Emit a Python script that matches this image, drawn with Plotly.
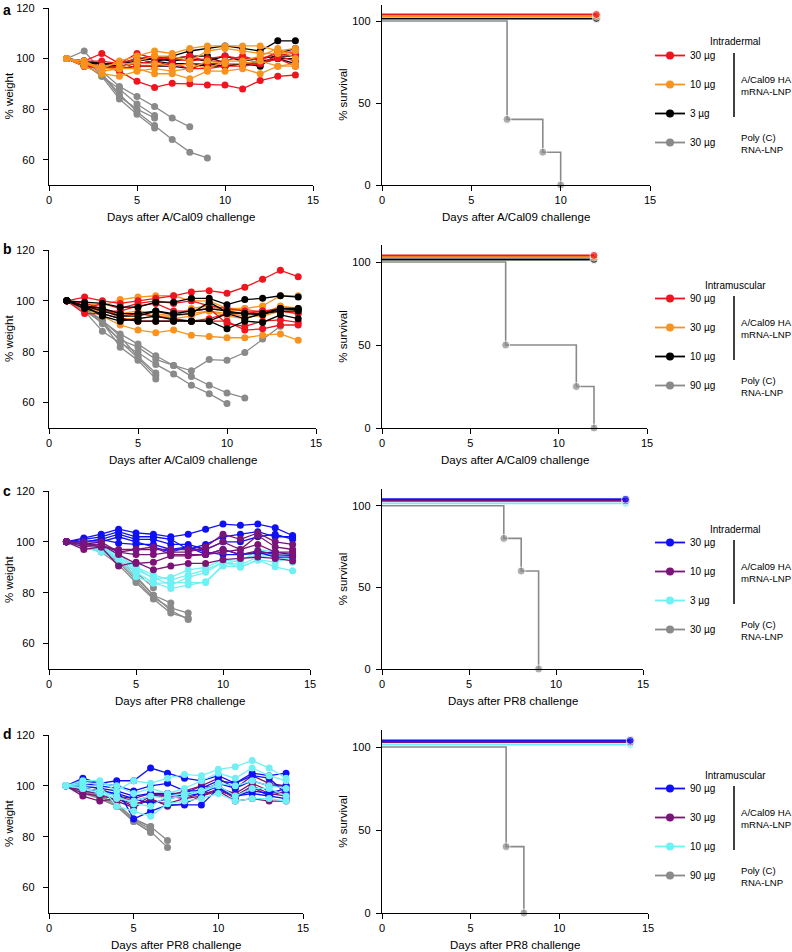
import plotly.graph_objects as go

# ---------------- data ----------------
DAYS = list(range(1, 15))

# Panel a (A/Cal09, intradermal)
A_30UG = [
    [100, 97, 97, 95, 91, 88.6, 90.2, 90, 89.5, 89.5, 88, 91.3, 93, 93.5],
    [100, 99, 102, 98, 102, 100, 100, 99, 100, 101, 100, 100, 102, 101],
    [100, 98, 97, 96, 97, 97, 98, 96, 96, 97, 97, 98, 100, 97],
    [100, 99, 99, 98, 100, 101, 100, 101, 99, 99, 101, 99, 103, 102],
    [100, 97, 96, 97, 98, 99, 97, 98, 98, 98, 98, 98, 101, 99],
]
A_10UG = [
    [100, 99, 96, 99, 101, 103, 102, 104, 105, 105, 105, 105, 103, 104],
    [100, 98, 96, 96, 99, 101, 101, 99, 103, 104, 103, 102, 102, 103],
    [100, 97, 94, 93, 95, 96, 95, 96, 99, 98, 98, 99, 97, 98],
    [100, 99, 95, 96, 96, 94, 94, 92, 95, 95, 96, 94, 97, 97],
    [100, 98, 97, 98, 98, 98, 97, 98, 96, 99, 99, 101, 104, 100],
]
A_3UG = [
    [100, 99, 98, 98, 100, 100, 101, 103, 104, 105, 104, 103, 107, 107],
    [100, 98, 98, 97, 98, 99, 100, 101, 101, 98, 98, 97, 102, 104],
    [100, 98, 97, 97, 98, 99, 98, 98, 97, 97, 98, 99, 100, 100],
    [100, 97, 97, 96, 97, 97, 97, 96, 98, 97, 98, 98, 100, 98],
    [100, 99, 98, 98, 99, 100, 99, 100, 99, 101, 99, 100, 101, 101],
]
A_POLY = [
    [100, 103, 95, 89, 85, 81, 76.5, 73],
    [100, 99, 94, 86, 79, 73.5, 68, 63, 60.7],
    [100, 98, 93, 88, 82, 77.5],
    [100, 97, 94, 85, 80, 76.5],
    [100, 98, 93, 84, 78, 72.5],
]

# Panel b (A/Cal09, intramuscular)
B_90UG = [
    [100, 101.5, 100, 99, 100, 101, 102, 103.5, 104, 103, 105.4, 108.5, 112, 109.5],
    [100, 95, 95, 93, 92, 92, 92, 92, 92, 92, 88.5, 89, 90.5, 90.5],
    [100, 98, 96, 96, 98, 99, 96, 96, 97, 91, 90, 92, 92.5, 91.5],
    [100, 97, 99, 97, 99, 100, 99, 100, 98, 97, 96, 96, 97, 97],
    [100, 99, 97, 94, 95, 94, 93, 92, 93, 95, 95, 96, 96, 95],
]
B_30UG = [
    [100, 97, 94, 90.5, 88.5, 87.5, 88.5, 86.5, 86, 85.5, 85.5, 86.5, 87, 84.5],
    [100, 99, 98, 100.5, 101.5, 102, 102, 100, 100, 97, 97, 98, 102, 102],
    [100, 98, 97, 95, 95, 94, 93, 94, 96, 95, 94, 94, 96, 95],
    [100, 97, 96, 95, 96, 95, 94, 97, 98, 96, 97, 95, 98, 97],
    [100, 98, 97, 93, 93, 94, 94, 95, 96, 94, 93, 95, 97, 96],
]
B_10UG = [
    [100, 99.5, 99, 97.5, 97.5, 99.5, 99.5, 101, 101, 98.5, 100.5, 101, 102, 101.5],
    [100, 97, 95, 93, 92, 92, 92, 92, 92, 89, 92, 91.5, 94.5, 93],
    [100, 98, 96, 94, 94, 96, 94.5, 95, 99.5, 95.5, 95, 94.5, 97, 96.5],
    [100, 98, 94, 92, 93, 94, 92.5, 92, 92, 95, 93, 95, 97, 97],
    [100, 98, 97, 95, 95, 96, 95, 96, 97, 96, 95, 95, 96, 96],
]
B_POLY = [
    [100, 97, 92, 87, 83, 78.4, 74.6, 72.5, 76.9, 76.6, 79.7, 85, 90],
    [100, 97, 91, 84.7, 81.8, 77, 74.6, 70.3, 66.8, 63.8, 61.8],
    [100, 96, 88, 83.4, 79.7, 75, 71.2, 66.8, 63.5, 59.6],
    [100, 97, 92.5, 86, 78, 71.6],
    [100, 96, 91.5, 81.8, 76.6, 69.3],
    [100, 97, 92, 84, 77.5, 70.6],
]

# Panel c (PR8, intradermal)
C_30UG = [
    [100, 101.5, 103, 105, 103.5, 103, 102, 103, 105, 107, 106.5, 107, 105.5, 102.5],
    [100, 101, 102, 104, 102, 102, 101, 97, 99, 102, 103, 104, 102, 102],
    [100, 100, 101, 103, 101, 101, 99, 99, 97, 100, 100, 102, 103, 101],
    [100, 100, 101, 99.5, 99, 99, 97, 98, 95, 97, 95, 96, 94, 94],
    [100, 99, 100, 102, 100, 98, 96, 98, 96, 95, 95, 95.5, 96, 95],
]
C_10UG = [
    [100, 97, 98, 90.5, 92, 89, 90.5, 91.5, 91.5, 93, 93.5, 94, 93.5, 92.5],
    [100, 98, 99, 95, 91.5, 92, 94.5, 94.5, 95, 97, 95, 96.5, 95, 94.5],
    [100, 99, 99, 96, 95, 95, 96, 96, 98, 103, 101, 103.5, 100, 99],
    [100, 100, 100, 96, 97, 97, 97, 97, 97, 100, 97, 102.5, 98, 97],
    [100, 99, 98, 97, 97, 98, 95, 95, 95, 96, 97, 99, 96, 96],
]
C_3UG = [
    [100, 98, 96, 93, 88, 84, 81.7, 83, 84.3, 90.5, 90.2, 92.8, 90.2, 88.6],
    [100, 98, 97, 94, 89, 86, 83, 86, 88, 92, 91, 94, 95, 92],
    [100, 99, 98, 95, 90, 85.5, 86, 89, 90, 93, 92, 97, 96, 95],
    [100, 98, 97, 93, 86.3, 83.7, 84, 84, 84, 91, 93, 95, 95, 95],
    [100, 99, 98, 94, 90, 87, 85, 87, 89, 92, 90, 93, 92, 94],
]
C_POLY = [
    [100, 99, 97, 93, 88, 82],
    [100, 99, 97, 93, 86.5, 79, 76],
    [100, 98, 97, 92, 85, 78, 74, 72],
    [100, 98, 96, 91, 84, 77.5, 72, 70],
    [100, 99, 97, 93, 86, 79, 73, 69.5],
]

# Panel d (PR8, intramuscular)
D_90UG = [
    [100, 103, 101, 102, 102, 107, 105, 103, 102, 104, 101, 105, 104, 105],
    [100, 101, 100, 99, 87, 90, 92.5, 92.5, 92.5, 99, 96, 97, 96, 95],
    [100, 102, 101, 100, 98, 100, 101, 98, 98, 101, 99, 102, 100, 100],
    [100, 99, 98, 97, 95, 93, 95, 96, 97, 100, 96, 98, 97, 99],
    [100, 100, 99, 98, 96, 97, 97, 96, 99, 102, 101, 104, 103, 97],
]
D_30UG = [
    [100, 96, 94, 95, 92, 96, 96, 95, 96, 99, 95, 99.5, 96, 98],
    [100, 98, 97, 94, 91.5, 95, 92, 93, 96, 98, 94, 95, 94, 94],
    [100, 99, 98, 96, 94, 96, 97, 97, 100, 103, 99, 104, 101, 100],
    [100, 100, 99, 96, 95, 97, 96, 98, 100, 99, 97, 101, 98, 97],
    [100, 97, 96, 95, 93, 94, 93, 95, 97, 98, 96, 100, 97, 96],
]
D_10UG = [
    [100, 102, 102, 98, 102, 101, 103, 104.5, 104, 106.5, 107.5, 110, 107, 103],
    [100, 100, 100, 92, 90, 88, 93, 94, 95, 97, 94, 95, 95, 94],
    [100, 99, 98, 96, 93, 92, 96, 97, 98, 101, 100, 102, 100, 99],
    [100, 101, 101, 100, 97, 99, 97, 99, 102, 105, 103, 107, 104, 102],
    [100, 99, 97, 95, 94, 96, 95, 96, 98, 100, 96, 99, 99, 96],
]
D_POLY = [
    [100, 98, 96, 93, 87, 84],
    [100, 98, 96, 92, 86.5, 83],
    [100, 97, 95, 92, 86, 81.7],
    [100, 98, 96, 93, 87, 84, 78.5],
    [100, 98, 95, 92, 86, 82, 75.8],
]

# Survival (Kaplan-Meier steps)
SURV_A_DAYS = [0, 7, 9, 10]
SURV_A_POLY = [100, 40, 20, 0]
SURV_A_END = 12
SURV_B_DAYS = [0, 7, 11, 12]
SURV_B_POLY = [100, 50, 25, 0]
SURV_B_END = 12
SURV_C_DAYS = [0, 7, 8, 9]
SURV_C_POLY = [100, 80, 60, 0]
SURV_C_END = 14
SURV_D_DAYS = [0, 7, 8]
SURV_D_POLY = [100, 40, 0]
SURV_D_END = 14
SURV_VACCINATED = 100

# labels
X_TITLES = ["Days after A/Cal09 challenge", "Days after A/Cal09 challenge",
            "Days after PR8 challenge", "Days after PR8 challenge"]
ROUTES = ["Intradermal", "Intramuscular", "Intradermal", "Intramuscular"]
DOSES = [["30 µg", "10 µg", "3 µg", "30 µg"],
         ["90 µg", "30 µg", "10 µg", "90 µg"],
         ["30 µg", "10 µg", "3 µg", "30 µg"],
         ["90 µg", "30 µg", "10 µg", "90 µg"]]
PANEL_LETTERS = ["a", "b", "c", "d"]

# ---------------- style ----------------
RED = "#f0141e"
ORANGE = "#f7931e"
BLACK = "#000000"
GRAY = "#8a8a8a"
BLUE = "#1010f5"
PURPLE = "#7a1478"
CYAN = "#70f0f4"
FONT = "Liberation Sans, Arial, Helvetica, sans-serif"

W, H = 792, 952
def PX(x): return x / W
def PY(y): return 1 - y / H

W_X = [(49, 313), (49, 316), (49, 310), (49, 303)]
W_Y = [(8, 185), (250, 428), (491, 669), (735, 913)]
S_X = [(382, 650), (382, 647), (382, 643), (382, 648)]
S_Y = [(4.6, 185), (245.4, 428), (489.4, 669), (730.4, 913)]
LEG_ITEMS_Y = [55, 298, 542, 788]
LETTER_Y = [0, 239, 481, 724]
SURV_OFFSETS = [104, 103, 101.5]   # visual stacking of the 100% lines

panels = [
    dict(groups=[(A_30UG, RED), (A_10UG, ORANGE), (A_3UG, BLACK)], poly=A_POLY,
         order=[2, 0, 1], sd=SURV_A_DAYS, sp=SURV_A_POLY, end=SURV_A_END),
    dict(groups=[(B_90UG, RED), (B_30UG, ORANGE), (B_10UG, BLACK)], poly=B_POLY,
         order=[1, 0, 2], sd=SURV_B_DAYS, sp=SURV_B_POLY, end=SURV_B_END),
    dict(groups=[(C_30UG, BLUE), (C_10UG, PURPLE), (C_3UG, CYAN)], poly=C_POLY,
         order=[2, 0, 1], sd=SURV_C_DAYS, sp=SURV_C_POLY, end=SURV_C_END),
    dict(groups=[(D_90UG, BLUE), (D_30UG, PURPLE), (D_10UG, CYAN)], poly=D_POLY,
         order=[1, 0, 2], sd=SURV_D_DAYS, sp=SURV_D_POLY, end=SURV_D_END),
]

fig = go.Figure()
layout = dict(width=W, height=H, margin=dict(l=0, r=0, t=0, b=0, autoexpand=False),
              paper_bgcolor="white", plot_bgcolor="white",
              font=dict(family=FONT, size=11, color="black"),
              showlegend=True)
annotations = []
shapes = []

axis_common = dict(showline=True, linecolor="black", linewidth=1.4, ticks="outside",
                   ticklen=5, tickwidth=1.4, tickcolor="black", showgrid=False,
                   zeroline=False, tickfont=dict(size=11, family=FONT, color="black"),
                   fixedrange=True, automargin=False)

for i, p in enumerate(panels):
    wx, wy = 2 * i + 1, 2 * i + 1
    sx, sy = 2 * i + 2, 2 * i + 2
    xa_w = "x" if wx == 1 else f"x{wx}"
    ya_w = "y" if wy == 1 else f"y{wy}"
    xa_s, ya_s = f"x{sx}", f"y{sy}"
    lk = lambda n: "xaxis" if n == 1 else f"xaxis{n}"
    lky = lambda n: "yaxis" if n == 1 else f"yaxis{n}"

    layout[lk(wx)] = dict(axis_common, domain=[PX(W_X[i][0]), PX(W_X[i][1])],
                          range=[0, 15], tickvals=[0, 5, 10, 15], anchor=ya_w)
    layout[lky(wy)] = dict(axis_common, domain=[PY(W_Y[i][1]), PY(W_Y[i][0])],
                           range=[50, 120], tickvals=[60, 80, 100, 120], anchor=xa_w,
                           ticklabelstandoff=6)
    layout[lk(sx)] = dict(axis_common, domain=[PX(S_X[i][0]), PX(S_X[i][1])],
                          range=[0, 15], tickvals=[0, 5, 10, 15], anchor=ya_s)
    layout[lky(sy)] = dict(axis_common, domain=[PY(S_Y[i][1]), PY(S_Y[i][0])],
                           range=[0, 110], tickvals=[0, 50, 100], anchor=xa_s,
                           ticklabelstandoff=3)

    # weight curves
    for mouse in p["poly"]:
        fig.add_trace(go.Scatter(x=DAYS[:len(mouse)], y=mouse, mode="lines+markers",
                                 line=dict(color=GRAY, width=1.3),
                                 marker=dict(color=GRAY, size=7),
                                 showlegend=False, xaxis=xa_w, yaxis=ya_w,
                                 cliponaxis=False))
    for gi in p["order"]:
        data, col = p["groups"][gi]
        for mouse in data:
            fig.add_trace(go.Scatter(x=DAYS[:len(mouse)], y=mouse, mode="lines+markers",
                                     line=dict(color=col, width=1.3),
                                     marker=dict(color=col, size=7),
                                     showlegend=False, xaxis=xa_w, yaxis=ya_w,
                                     cliponaxis=False))

    # survival curves
    sizes = [0] + [8] * (len(p["sd"]) - 1)
    fig.add_trace(go.Scatter(x=p["sd"], y=p["sp"], mode="lines+markers",
                             line=dict(color=GRAY, width=1.6, shape="hv"),
                             marker=dict(color=GRAY, size=sizes),
                             showlegend=False, xaxis=xa_s, yaxis=ya_s, cliponaxis=False))
    for gi in [2, 1, 0]:
        _, col = p["groups"][gi]
        yv = SURV_VACCINATED - 100 + SURV_OFFSETS[gi]
        fig.add_trace(go.Scatter(x=[0, p["end"]], y=[yv, yv], mode="lines+markers",
                                 line=dict(color=col, width=1.8),
                                 marker=dict(color=col, size=[0, 8]),
                                 showlegend=False, xaxis=xa_s, yaxis=ya_s, cliponaxis=False))

    # legend entries
    legname = "legend" if i == 0 else f"legend{i + 1}"
    cols = [p["groups"][0][1], p["groups"][1][1], p["groups"][2][1], GRAY]
    for k in range(4):
        fig.add_trace(go.Scatter(x=[None], y=[None], mode="lines+markers",
                                 line=dict(color=cols[k], width=1.8),
                                 marker=dict(color=cols[k], size=8),
                                 name=DOSES[i][k], legend=legname,
                                 legendgroup=f"g{i}_{k}", showlegend=True,
                                 xaxis=xa_s, yaxis=ya_s))
    ly = LEG_ITEMS_Y[i]
    layout[legname] = dict(x=PX(650), y=PY(ly - 14), xanchor="left", yanchor="top",
                           font=dict(size=10, family=FONT, color="black"),
                           tracegroupgap=10, bgcolor="rgba(0,0,0,0)",
                           traceorder="grouped", itemclick=False, itemdoubleclick=False)
    # legend decorations
    annotations.append(dict(text=ROUTES[i], x=PX(735), y=PY(ly - 13), xref="paper", yref="paper",
                            showarrow=False, xanchor="center", yanchor="middle",
                            font=dict(size=10, family=FONT)))
    shapes.append(dict(type="line", xref="paper", yref="paper", x0=PX(734), x1=PX(734),
                       y0=PY(ly - 2), y1=PY(ly + 62), line=dict(color="black", width=1.5)))
    annotations.append(dict(text="A/Cal09 HA<br>mRNA-LNP", x=PX(739), y=PY(ly + 30),
                            xref="paper", yref="paper", showarrow=False, xanchor="left",
                            yanchor="middle", align="left", font=dict(size=9.6, family=FONT)))
    annotations.append(dict(text="Poly (C)<br>RNA-LNP", x=PX(739), y=PY(ly + 88),
                            xref="paper", yref="paper", showarrow=False, xanchor="left",
                            yanchor="middle", align="left", font=dict(size=9.6, family=FONT)))

    # axis titles
    annotations.append(dict(text=X_TITLES[i], x=PX((W_X[i][0] + W_X[i][1]) / 2),
                            y=PY(W_Y[i][1] + 32), xref="paper", yref="paper", showarrow=False,
                            xanchor="center", yanchor="middle", font=dict(size=11.5, family=FONT)))
    annotations.append(dict(text=X_TITLES[i], x=PX((S_X[i][0] + S_X[i][1]) / 2),
                            y=PY(S_Y[i][1] + 32), xref="paper", yref="paper", showarrow=False,
                            xanchor="center", yanchor="middle", font=dict(size=11.5, family=FONT)))
    annotations.append(dict(text="% weight", x=PX(9), y=PY((W_Y[i][0] + W_Y[i][1]) / 2),
                            xref="paper", yref="paper", showarrow=False, textangle=-90,
                            xanchor="center", yanchor="middle", font=dict(size=11.5, family=FONT)))
    annotations.append(dict(text="% survival", x=PX(343), y=PY((S_Y[i][0] + S_Y[i][1]) / 2),
                            xref="paper", yref="paper", showarrow=False, textangle=-90,
                            xanchor="center", yanchor="middle", font=dict(size=11.5, family=FONT)))
    annotations.append(dict(text=f"<b>{PANEL_LETTERS[i]}</b>", x=PX(1), y=PY(LETTER_Y[i]),
                            xref="paper", yref="paper", showarrow=False, xanchor="left",
                            yanchor="top", font=dict(size=14, family=FONT)))

layout["annotations"] = annotations
layout["shapes"] = shapes
fig.update_layout(**layout)
fig.write_html("out.html", config={"displayModeBar": False},
               post_script="document.body.style.margin='0';")
